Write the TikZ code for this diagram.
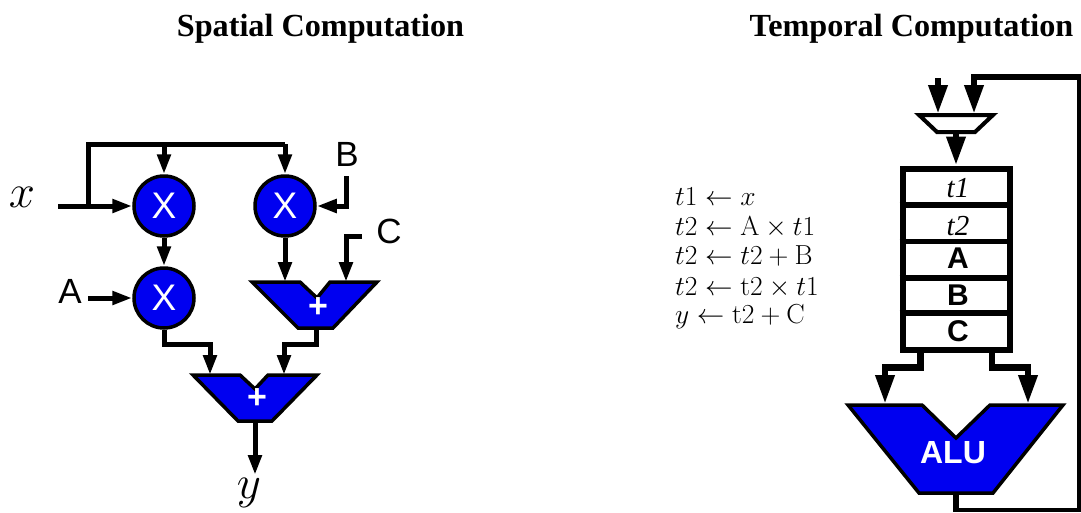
\documentclass[tikz,border=0pt]{standalone}
\usepackage{fix-cm}
\usepackage{fontspec}
\usetikzlibrary{arrows.meta}
\newfontfamily\titlefont{Liberation Serif}
\newfontfamily\labelfont{Liberation Sans}
\definecolor{opblue}{RGB}{0,0,240}
\tikzset{
  wire/.style={line width=5pt,line cap=butt,line join=miter},
  wirea/.style={wire,-{Triangle[width=13pt,length=20pt]}},
  bigwire/.style={line width=6.5pt,line join=miter},
  bigwirea/.style={bigwire,-{Triangle[width=18pt,length=29pt]}},
  thinwire/.style={line width=4pt,line join=miter},
  opfill/.style={draw=black,fill=opblue,line width=3.5pt,line join=miter},
  mulop/.style={circle,opfill,minimum size=60pt,inner sep=0pt,text=white,font=\labelfont\fontsize{37}{37}\selectfont},
  plusop/.style={text=white,inner sep=0pt,font=\labelfont\bfseries\fontsize{34}{34}\selectfont},
  titletext/.style={font=\titlefont\bfseries\fontsize{32.2}{34}\selectfont,inner sep=0pt},
  portlabel/.style={font=\labelfont\fontsize{35}{35}\selectfont,inner sep=0pt},
  mathlabel/.style={font=\fontsize{47}{47}\selectfont,inner sep=0pt},
  stepline/.style={font=\fontsize{27.5}{30}\selectfont,inner sep=0pt,anchor=base west},
  cell/.style={inner sep=0pt,font=\labelfont\bfseries\fontsize{30}{30}\selectfont},
  cellit/.style={inner sep=0pt,font=\titlefont\itshape\fontsize{29}{29}\selectfont},
}
\begin{document}
\begin{tikzpicture}[x=1pt,y=-1pt]
\useasboundingbox (0,0) rectangle (1081,512);
\fill[white] (0,0) rectangle (1081,512);
% titles
\node[titletext] (t1title) at (320.5,29) {Spatial Computation};
\node[titletext] (t2title) at (911.5,29) {Temporal Computation};
% spatial ops
\node[mulop] (m1) at (164,206) {X};
\node[mulop] (m2) at (285,206) {X};
\node[mulop] (m3) at (164,298) {X};
\draw[opfill] (252,282) -- (300,282) -- (317,298) -- (330,282) -- (377,282) -- (333,328) -- (298,328) -- cycle;
\draw[opfill] (193,375) -- (240,375) -- (255,389) -- (268,375) -- (317,375) -- (272,421) -- (238,421) -- cycle;
\node[plusop] (p1) at (318,308) {+};
\node[plusop] (p2) at (257,399) {+};
% spatial ports
\coordinate (xin) at (58,206);
\coordinate (xsplit) at (88,206);
\coordinate (xtopl) at (88,144);
\coordinate (x1top) at (164,144);
\coordinate (x2top) at (285,144);
\coordinate (bin) at (346,176);
\coordinate (bcorner) at (346,206);
\coordinate (cin) at (362,236);
\coordinate (ccorner) at (346,236);
\coordinate (cport) at (346,282);
\coordinate (m2port) at (285,282);
\coordinate (ain) at (88,298);
\coordinate (m3a) at (164,344);
\coordinate (m3b) at (210,344);
\coordinate (p2l) at (210,375);
\coordinate (p1out) at (316,328);
\coordinate (p1a) at (316,344);
\coordinate (p1b) at (284,344);
\coordinate (p2r) at (284,375);
\coordinate (p2out) at (255,421);
\coordinate (yout) at (255,475);
% spatial wires
\draw[wirea] (xin) -- (m1.west);
\draw[wire] (xsplit) -- (xtopl) -- (x2top);
\draw[wirea] (x1top) -- (m1.north);
\draw[wirea] (x2top) -- (m2.north);
\draw[wirea] (m1.south) -- (m3.north);
\draw[wirea] (bin) -- (bcorner) -- (m2.east);
\draw[wirea] (cin) -- (ccorner) -- (cport);
\draw[wirea] (m2.south) -- (m2port);
\draw[wirea] (ain) -- (m3.west);
\draw[wirea] (m3.south) -- (m3a) -- (m3b) -- (p2l);
\draw[wirea] (p1out) -- (p1a) -- (p1b) -- (p2r);
\draw[wirea] (p2out) -- (yout);
% spatial labels
\node[mathlabel] (lx) at (22,197) {$x$};
\node[mathlabel] (ly) at (249,493) {$y$};
\node[portlabel] (la) at (70,291) {A};
\node[portlabel] (lb) at (347,154) {B};
\node[portlabel] (lc) at (389,231) {C};
% steps
\node[stepline] (s1) at (675,205) {$t1 \leftarrow x$};
\node[stepline] (s2) at (675,235) {$t2 \leftarrow \mathrm{A} \times t1$};
\node[stepline] (s3) at (675,264) {$t2 \leftarrow t2 + \mathrm{B}$};
\node[stepline] (s4) at (675,295) {$t2 \leftarrow \mathrm{t2} \times t1$};
\node[stepline] (s5) at (675,323) {$y \leftarrow \mathrm{t2} + \mathrm{C}$};
% mux
\draw[draw=black,fill=white,line width=4pt,line join=miter] (919,115) -- (993,115) -- (975,132) -- (937,132) -- cycle;
\coordinate (muxa) at (938,114);
\coordinate (muxb) at (974,114);
\coordinate (muxain) at (938,78);
\coordinate (muxout) at (956,132);
% register
\node[draw=black,fill=white,line width=6pt,minimum width=107pt,minimum height=181pt,inner sep=0pt,outer sep=3pt] (reg) at (956,259) {};
\draw[line width=6.5pt] (reg.west |- 0,205) -- (reg.east |- 0,205);
\draw[line width=5pt] (reg.west |- 0,241.7) -- (reg.east |- 0,241.7);
\draw[line width=6pt] (reg.west |- 0,277.7) -- (reg.east |- 0,277.7);
\draw[line width=6pt] (reg.west |- 0,313) -- (reg.east |- 0,313);
\node[cellit] (c1) at (958,188) {t1};
\node[cellit] (c2) at (958,226) {t2};
\node[cell] (c3) at (958,258) {A};
\node[cell] (c4) at (958,295) {B};
\node[cell] (c5) at (958,331) {C};
% ALU
\draw[opfill] (848,405) -- (922,405) -- (956,438) -- (990,405) -- (1063,405) -- (993,493) -- (919,493) -- cycle;
\node[inner sep=0pt,text=white,font=\labelfont\bfseries\fontsize{32}{32}\selectfont] (alu) at (953,453) {ALU};
\coordinate (rl) at (920.5,349);
\coordinate (rl1) at (920.5,367.5);
\coordinate (rl2) at (885,367.5);
\coordinate (alul) at (885,404);
\coordinate (rr) at (992,349);
\coordinate (rr1) at (992,367.5);
\coordinate (rr2) at (1028,367.5);
\coordinate (alur) at (1028,404);
\coordinate (aluout) at (956,493);
\coordinate (fb1) at (956,510);
\coordinate (fb2) at (1079,510);
\coordinate (fb3) at (1079,77);
\coordinate (fb4) at (974,77);
% temporal wires
\draw[bigwirea] (muxain) -- (muxa);
\draw[bigwirea] (muxout) -- (reg.north -| muxout);
\draw[bigwirea] (rl) -- (rl1) -- (rl2) -- (alul);
\draw[bigwirea] (rr) -- (rr1) -- (rr2) -- (alur);
\draw[bigwire] (aluout) -- ([yshift=-1.5pt]fb1);
\draw[thinwire] ([xshift=-3pt]fb1) -- (fb2) -- (fb3);
\draw[bigwirea] ([xshift=2pt]fb3) -- (fb4) -- (muxb);
\end{tikzpicture}
\end{document}
